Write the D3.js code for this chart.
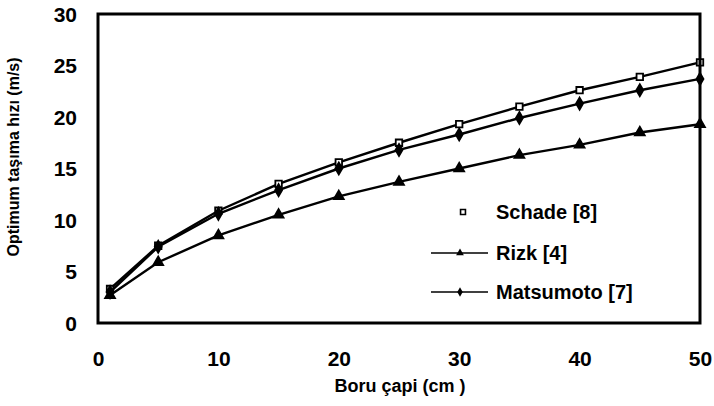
<!DOCTYPE html>
<html><head><meta charset="utf-8">
<script src="https://cdn.jsdelivr.net/npm/d3@7"></script>
<style>
body{margin:0;background:#fff;}
text{font-family:"Liberation Sans","Arial",sans-serif;font-weight:bold;fill:#000;}
</style></head><body>
<svg id="c" width="714" height="406"></svg>
<script>
const diameters = [1, 5, 10, 15, 20, 25, 30, 35, 40, 45, 50];
const schade    = [3.3, 7.5, 10.9, 13.5, 15.6, 17.5, 19.3, 21.0, 22.6, 23.9, 25.3];
const rizk      = [2.7, 5.9, 8.5, 10.5, 12.3, 13.7, 15.0, 16.3, 17.3, 18.5, 19.3];
const matsumoto = [3.0, 7.4, 10.6, 12.9, 15.0, 16.8, 18.3, 19.9, 21.3, 22.6, 23.7];
const xTicks = [0, 10, 20, 30, 40, 50];
const yTicks = [0, 5, 10, 15, 20, 25, 30];
const seriesNames = ["Schade [8]", "Rizk [4]", "Matsumoto [7]"];

const svg = d3.select("#c");
const L = 98, R = 700, T = 14, B = 323;
const x = d3.scaleLinear().domain([0, 50]).range([L, R]);
const y = d3.scaleLinear().domain([0, 30]).range([B, T]);

// axes (labels only)
const xAxis = d3.axisBottom(x).tickValues(xTicks).tickSize(0).tickPadding(0);
const gx = svg.append("g").attr("transform", `translate(0,${B + 31})`).call(xAxis);
gx.select(".domain").remove();
gx.selectAll("text").style("font-size", "21px").style("font-family", "'Liberation Sans',sans-serif").attr("dy", "0.55em");

const yAxis = d3.axisLeft(y).tickValues(yTicks).tickSize(0).tickPadding(0);
const gy = svg.append("g").attr("transform", `translate(${L - 21},0)`).call(yAxis);
gy.select(".domain").remove();
gy.selectAll("text").style("font-size", "21px").style("font-family", "'Liberation Sans',sans-serif").attr("dy", "0.35em");

// series
const series = [
  {name: seriesNames[0], vals: schade, marker: "square"},
  {name: seriesNames[1], vals: rizk, marker: "triangle"},
  {name: seriesNames[2], vals: matsumoto, marker: "diamond"}
];
const line = d3.line().x(d => x(d[0])).y(d => y(d[1]));
const plot = svg.append("g");
series.forEach(s => {
  const pts = diameters.map((d, i) => [d, s.vals[i]]);
  plot.append("path").datum(pts).attr("d", line)
    .attr("fill", "none").attr("stroke", "#000").attr("stroke-width", 2.4);
  plot.selectAll(null).data(pts).enter().append("path")
    .attr("transform", d => `translate(${x(d[0])},${y(d[1])})`)
    .attr("d", s.marker === "square" ? d3.symbol(d3.symbolSquare, 42)()
         : s.marker === "triangle" ? d3.symbol(d3.symbolTriangle, 42)()
         : d3.symbol(d3.symbolDiamond, 42)())
    .attr("fill", s.marker === "square" ? "#fff" : "#000")
    .attr("stroke", "#000").attr("stroke-width", 1.8);
});

// frame
svg.append("rect").attr("x", L).attr("y", T).attr("width", R - L).attr("height", B - T)
  .attr("fill", "none").attr("stroke", "#000").attr("stroke-width", 3);

// legend
const lg = svg.append("g");
const ly = [212, 253, 292];
lg.append("path").attr("transform", `translate(463,${ly[0]})`)
  .attr("d", d3.symbol(d3.symbolSquare, 24)()).attr("fill", "#fff").attr("stroke", "#000").attr("stroke-width", 1.6);
[1, 2].forEach(i => {
  lg.append("line").attr("x1", 431).attr("x2", 488).attr("y1", ly[i]).attr("y2", ly[i])
    .attr("stroke", "#000").attr("stroke-width", 1.6);
  lg.append("path").attr("transform", `translate(460,${ly[i]})`)
    .attr("d", d3.symbol(i === 1 ? d3.symbolTriangle : d3.symbolDiamond, 26)())
    .attr("fill", "#000");
});
seriesNames.forEach((n, i) => {
  lg.append("text").attr("x", 496).attr("y", ly[i]).attr("dy", "0.35em")
    .style("font-size", "20px").text(n);
});

// titles
svg.append("text").attr("x", 400).attr("y", 386).attr("text-anchor", "middle")
  .attr("dy", "0.35em").style("font-size", "18px").text("Boru çapi (cm )");
svg.append("text").attr("transform", "translate(13,157) rotate(-90)")
  .attr("text-anchor", "middle").attr("dy", "0.35em").style("font-size", "16px")
  .text("Optimum taşıma hızı (m/s)");
</script>
</body></html>
